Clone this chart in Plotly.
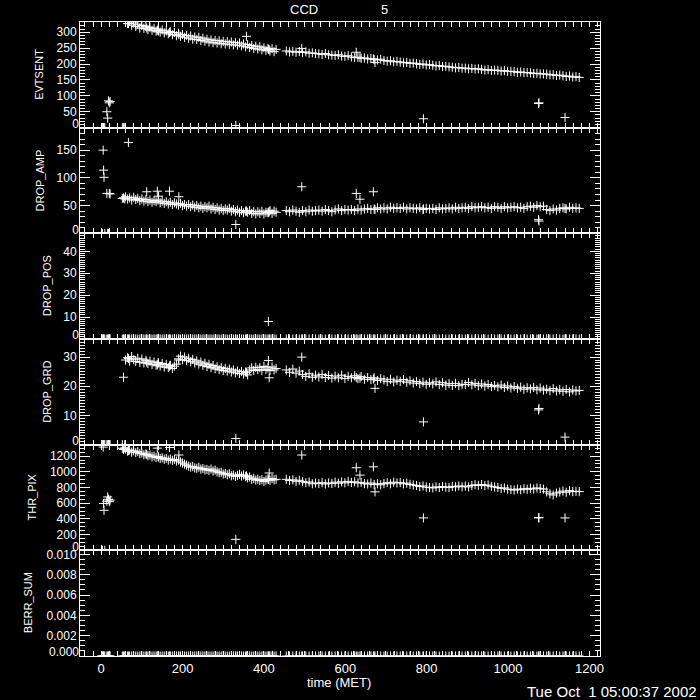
import plotly.graph_objects as go
from plotly.subplots import make_subplots

# ---------------- data ----------------
# early points (15), isolated outliers (18), dense band A (75), band B (91)
time = [1, 3, 5, 6, 7, 9, 14, 16, 18, 20, 22, 52, 55, 58, 67,
        112, 138, 141, 168, 191, 331, 357, 411, 413, 493, 627, 636, 669, 673, 792, 1075, 1076, 1140,
        60, 65, 70, 75, 80, 85, 90, 95, 100, 105, 110, 115, 120, 125, 130,
        135, 140, 145, 150, 155, 160, 165, 170, 175, 180, 185, 190, 195, 200, 205,
        210, 215, 220, 225, 230, 235, 240, 245, 250, 255, 260, 265, 270, 275, 280,
        285, 290, 295, 300, 305, 310, 315, 320, 325, 330, 335, 340, 345, 350, 355,
        360, 365, 370, 375, 380, 385, 390, 395, 400, 405, 410, 415, 420, 425, 430,
        455, 463, 471, 479, 487, 495, 503, 511, 519, 527, 535, 543, 551, 559, 567,
        575, 583, 591, 599, 607, 615, 623, 631, 639, 647, 655, 663, 671, 679, 687,
        695, 703, 711, 719, 727, 735, 743, 751, 759, 767, 775, 783, 791, 799, 807,
        815, 823, 831, 839, 847, 855, 863, 871, 879, 887, 895, 903, 911, 919, 927,
        935, 943, 951, 959, 967, 975, 983, 991, 999, 1007, 1015, 1023, 1031, 1039, 1047,
        1055, 1063, 1071, 1079, 1087, 1095, 1103, 1111, 1119, 1127, 1135, 1143, 1151, 1159, 1167,
        1175]

evtsent = [0, 0, 0, 0, 0, 0, 50, 30, 84, 78, 82, 0, 0, 0, 327,
           313, 306, 304, 299, 292, 7, 287, 246, 245, 249, 237, 221, 216, 205, 28, 76, 78, 32,
           336, 327, 334, 322, 329, 318, 325, 313, 321, 312, 318, 308, 315, 306, 312,
           303, 310, 300, 307, 298, 304, 295, 302, 292, 299, 289, 297, 287, 293, 284,
           290, 281, 288, 278, 285, 277, 284, 274, 281, 272, 278, 269, 276, 267, 274,
           266, 273, 264, 271, 263, 270, 262, 269, 260, 267, 259, 266, 257, 263, 254,
           261, 252, 258, 249, 256, 247, 254, 245, 251, 243, 249, 241, 248, 239, 246,
           241, 238, 240, 237, 239, 236, 238, 234, 235, 233, 232, 230, 233, 229, 228,
           227, 229, 225, 224, 226, 222, 220, 221, 218, 219, 216, 217, 214, 213, 215,
           211, 209, 210, 207, 208, 206, 204, 205, 202, 203, 201, 199, 200, 197, 198,
           196, 194, 195, 192, 193, 191, 190, 188, 189, 187, 187, 185, 186, 184, 185,
           183, 181, 182, 180, 181, 180, 178, 179, 177, 177, 176, 174, 175, 173, 173,
           172, 170, 171, 169, 169, 168, 166, 166, 164, 165, 163, 161, 162, 159, 160,
           158]

drop_amp = [0, 0, 150, 114, 101, 0, 72, 0, 0, 72, 71, 63, 64, 62, 164,
            75, 76, 67, 76, 66, 16, 40, 38, 39, 84, 72, 61.5, 75, 43, 44, 24.6, 22, 45,
            66, 62, 64, 60, 65, 61, 63, 59, 62, 58, 61, 57, 60, 56, 59,
            57, 60, 55, 58, 54, 57, 53, 56, 52, 55, 53, 51, 54, 50, 52,
            49, 52, 48, 51, 47, 50, 46, 49, 45, 48, 46, 49, 44, 47, 43,
            46, 42, 45, 41, 44, 42, 45, 40, 43, 39, 42, 38, 41, 37, 40,
            38, 41, 36, 39, 35, 39, 36, 40, 35, 38, 37, 41, 36, 40, 38,
            41, 39, 42, 40, 38, 41, 39, 42, 40, 41, 42, 40, 43, 41, 39,
            42, 44, 41, 43, 42, 43, 41, 44, 42, 44, 45, 43, 44, 46, 44,
            46, 44, 47, 45, 46, 45, 47, 44, 46, 45, 44, 46, 43, 45, 44,
            45, 43, 46, 44, 45, 46, 44, 47, 45, 46, 47, 45, 48, 46, 47,
            48, 46, 47, 45, 48, 47, 45, 48, 46, 47, 48, 46, 47, 45, 48,
            49, 47, 50, 48, 49, 43, 41, 44, 42, 45, 46, 44, 47, 45, 46,
            45]

drop_pos = [0, 0, 0, 0, 0, 0, 0, 0, 0, 0, 0, 0, 0, 0, 0,
            0, 0, 0, 0, 0, 0, 0, 8, 0, 0, 0, 0, 0, 0, 0, 0, 0, 0,
            0, 0, 0, 0, 0, 0, 0, 0, 0, 0, 0, 0, 0, 0, 0,
            0, 0, 0, 0, 0, 0, 0, 0, 0, 0, 0, 0, 0, 0, 0,
            0, 0, 0, 0, 0, 0, 0, 0, 0, 0, 0, 0, 0, 0, 0,
            0, 0, 0, 0, 0, 0, 0, 0, 0, 0, 0, 0, 0, 0, 0,
            0, 0, 0, 0, 0, 0, 0, 0, 0, 0, 0, 0, 0, 0, 0,
            0, 0, 0, 0, 0, 0, 0, 0, 0, 0, 0, 0, 0, 0, 0,
            0, 0, 0, 0, 0, 0, 0, 0, 0, 0, 0, 0, 0, 0, 0,
            0, 0, 0, 0, 0, 0, 0, 0, 0, 0, 0, 0, 0, 0, 0,
            0, 0, 0, 0, 0, 0, 0, 0, 0, 0, 0, 0, 0, 0, 0,
            0, 0, 0, 0, 0, 0, 0, 0, 0, 0, 0, 0, 0, 0, 0,
            0, 0, 0, 0, 0, 0, 0, 0, 0, 0, 0, 0, 0, 0, 0,
            0]

drop_grd = [0, 0, 0, 0, 0, 0, 0, 0, 0, 0, 0, 0, 23.1, 0, 29.5,
            28.3, 27.4, 28.0, 26.9, 29.0, 2.1, 24.8, 28.8, 22.9, 30.0, 23.0, 22.8, 22.5, 19.3, 7.8, 11.9, 12.4, 2.6,
            29.0, 29.8, 28.6, 30.2, 29.1, 28.5, 29.6, 28.2, 29.3, 28.0, 28.9, 27.8, 28.6, 27.5, 28.3,
            27.2, 28.1, 26.9, 27.8, 26.6, 27.5, 26.4, 27.2, 26.1, 26.9, 27.6, 29.4, 30.3, 29.1, 30.0,
            28.8, 29.6, 28.4, 29.2, 28.0, 28.7, 27.6, 28.3, 27.2, 27.9, 26.8, 27.5, 26.4, 27.1, 26.0,
            26.7, 25.7, 26.4, 25.4, 26.1, 25.2, 25.9, 24.9, 25.6, 24.6, 25.3, 24.4, 25.1, 24.2, 24.9,
            23.9, 25.6, 26.3, 25.4, 26.5, 25.7, 26.4, 25.5, 26.8, 25.8, 26.3, 25.4, 26.6, 25.6, 26.1,
            25.6, 24.8, 25.9, 24.5, 25.2, 24.0, 23.4, 24.3, 23.1, 23.8, 23.2, 24.0, 23.0, 23.7, 22.8,
            23.5, 22.9, 23.8, 22.7, 23.4, 22.9, 23.6, 22.6, 23.3, 22.4, 23.0, 22.3, 22.9, 22.0, 22.6,
            22.2, 21.6, 22.4, 21.5, 22.1, 21.7, 22.3, 21.4, 21.9, 21.1, 21.6, 20.9, 21.4, 20.7, 21.2,
            20.8, 21.5, 20.6, 21.2, 20.4, 20.9, 20.3, 21.0, 20.2, 20.7, 20.6, 21.3, 20.5, 21.0, 20.2,
            20.8, 20.1, 20.6, 19.9, 20.3, 19.8, 20.4, 19.6, 20.1, 19.4, 19.9, 19.3, 19.7, 19.0, 19.5,
            19.1, 19.6, 18.8, 19.4, 18.7, 19.0, 18.5, 19.2, 18.4, 18.8, 18.3, 18.9, 18.1, 18.7, 18.4,
            18.6]

thr_pix = [0, 0, 1315, 597, 510, 0, 626, 680, 650, 620, 640, 1300, 1285, 1305, 1272,
           1222, 1302, 1188, 1310, 1214, 140, 950, 902, 985, 1214, 1052, 958, 1064, 745, 413, 413, 418, 413,
           1290, 1262, 1278, 1250, 1268, 1245, 1258, 1232, 1240, 1218, 1228, 1205, 1215, 1192, 1200,
           1182, 1195, 1170, 1178, 1160, 1172, 1150, 1163, 1145, 1158, 1138, 1150, 1125, 1112, 1098,
           1085, 1072, 1060, 1068, 1050, 1045, 1058, 1035, 1042, 1025, 1030, 1018, 1035, 1010, 1022,
           1000, 988, 995, 972, 980, 962, 975, 950, 960, 942, 955, 968, 945, 960, 938,
           922, 935, 905, 918, 895, 905, 888, 900, 878, 895, 910, 892, 915, 898, 905,
           905, 890, 898, 880, 892, 875, 862, 870, 848, 858, 850, 862, 845, 858, 852,
           868, 855, 872, 860, 878, 865, 872, 858, 866, 850, 845, 858, 838, 848, 835,
           850, 862, 848, 868, 858, 862, 848, 855, 840, 832, 825, 812, 820, 805, 800,
           795, 808, 800, 812, 805, 800, 815, 808, 820, 810, 818, 808, 825, 835, 828,
           838, 825, 832, 815, 808, 800, 790, 795, 780, 775, 768, 780, 772, 785, 778,
           790, 782, 795, 788, 780, 745, 720, 705, 730, 742, 755, 740, 760, 748, 752,
           748]

berr_sum = [0, 0, 0, 0, 0, 0, 0, 0, 0, 0, 0, 0, 0, 0, 0,
            0, 0, 0, 0, 0, 0, 0, 0, 0, 0, 0, 0, 0, 0, 0, 0, 0, 0,
            0, 0, 0, 0, 0, 0, 0, 0, 0, 0, 0, 0, 0, 0, 0,
            0, 0, 0, 0, 0, 0, 0, 0, 0, 0, 0, 0, 0, 0, 0,
            0, 0, 0, 0, 0, 0, 0, 0, 0, 0, 0, 0, 0, 0, 0,
            0, 0, 0, 0, 0, 0, 0, 0, 0, 0, 0, 0, 0, 0, 0,
            0, 0, 0, 0, 0, 0, 0, 0, 0, 0, 0, 0, 0, 0, 0,
            0, 0, 0, 0, 0, 0, 0, 0, 0, 0, 0, 0, 0, 0, 0,
            0, 0, 0, 0, 0, 0, 0, 0, 0, 0, 0, 0, 0, 0, 0,
            0, 0, 0, 0, 0, 0, 0, 0, 0, 0, 0, 0, 0, 0, 0,
            0, 0, 0, 0, 0, 0, 0, 0, 0, 0, 0, 0, 0, 0, 0,
            0, 0, 0, 0, 0, 0, 0, 0, 0, 0, 0, 0, 0, 0, 0,
            0, 0, 0, 0, 0, 0, 0, 0, 0, 0, 0, 0, 0, 0, 0,
            0]

panel_names = ["EVTSENT", "DROP_AMP", "DROP_POS", "DROP_GRD", "THR_PIX", "BERR_SUM"]
x_tick_values = [0, 200, 400, 600, 800, 1000, 1200]
x_tick_labels = ["0", "200", "400", "600", "800", "1000", "1200"]
y_tick_values = [[0, 50, 100, 150, 200, 250, 300],
                 [0, 50, 100, 150],
                 [0, 10, 20, 30, 40],
                 [0, 10, 20, 30],
                 [0, 200, 400, 600, 800, 1000, 1200],
                 [0.0, 0.002, 0.004, 0.006, 0.008, 0.010]]
y_tick_labels = [["0", "50", "100", "150", "200", "250", "300"],
                 ["0", "50", "100", "150"],
                 ["0", "10", "20", "30", "40"],
                 ["0", "10", "20", "30"],
                 ["0", "200", "400", "600", "800", "1000", "1200"],
                 ["0.000", "0.002", "0.004", "0.006", "0.008", "0.010"]]

# ---------------- figure ----------------
W, H = 700, 700
ML, MR, MT, MB = 80, 100, 22, 44
PW, PH = W - ML - MR, H - MT - MB

FONT = "Liberation Sans, Arial, sans-serif"
WHITE = "white"

fig = make_subplots(rows=6, cols=1, shared_xaxes=True, vertical_spacing=0)

series = [evtsent, drop_amp, drop_pos, drop_grd, thr_pix, berr_sum]
yranges = [[0, 332], [0, 190.6], [0, 48.2], [0, 36.2], [0, 1346], [0, 0.0104]]
yminor = [10, 10, 1, 1, 50, 0.0005]
title_px = [39, 39, 47, 47, 31, 28]
tick_font = dict(family=FONT, size=12, color=WHITE)

for i, vals in enumerate(series, start=1):
    fig.add_trace(go.Scatter(
        x=time, y=vals, mode="markers",
        marker=dict(symbol="cross-thin", size=6.5, color=WHITE,
                    line=dict(color=WHITE, width=1)),
        showlegend=False, hoverinfo="skip", cliponaxis=True),
        row=i, col=1)
    tv, tt = y_tick_values[i - 1], y_tick_labels[i - 1]
    fig.update_yaxes(row=i, col=1, range=yranges[i - 1],
                     tickmode="array", tickvals=tv[1:], ticktext=tt[1:],
                     ticks="inside", ticklen=10, tickwidth=1, tickcolor=WHITE,
                     showline=True, linecolor=WHITE, linewidth=1, mirror="allticks",
                     showgrid=False, zeroline=False,
                     tickfont=tick_font,
                     minor=dict(tickmode="linear", tick0=0, dtick=yminor[i - 1],
                                ticks="inside", ticklen=5, tickwidth=1,
                                tickcolor=WHITE, showgrid=False))
    fig.update_xaxes(row=i, col=1, range=[-52, 1226],
                     tickmode="array", tickvals=x_tick_values,
                     ticktext=x_tick_labels,
                     ticks="inside", ticklen=5, tickwidth=1, tickcolor=WHITE,
                     showline=True, linecolor=WHITE, linewidth=1, mirror="allticks",
                     showgrid=False, zeroline=False,
                     showticklabels=(i == 6),
                     tickfont=dict(family=FONT, size=13, color=WHITE),
                     minor=dict(tick0=0, dtick=20, ticks="inside", ticklen=3,
                                tickwidth=1, tickcolor=WHITE, showgrid=False))

# overlay axes carrying the bottom ("0") label of each panel, raised like the original
extra_axes = {}
for i in range(1, 7):
    ov = 6 + i
    xname = "x" if i == 1 else f"x{i}"
    yname = "y" if i == 1 else f"y{i}"
    fig.add_trace(go.Scatter(x=[None], y=[None], mode="markers",
                             xaxis=xname, yaxis=f"y{ov}",
                             showlegend=False, hoverinfo="skip"))
    extra_axes[f"yaxis{ov}"] = dict(
        overlaying=yname, anchor=xname, side="left", range=yranges[i - 1],
        tickmode="array", tickvals=[y_tick_values[i - 1][0]],
        ticktext=[y_tick_labels[i - 1][0]],
        ticks="", showline=False, showgrid=False, zeroline=False,
        ticklabelshift=-4, tickfont=tick_font)

annotations = []
panel_h = PH / 6.0
for k, name in enumerate(panel_names):
    cy = MT + (k + 0.5) * panel_h
    annotations.append(dict(
        text=name, xref="paper", yref="paper",
        x=(title_px[k] - ML) / PW, y=(H - MB - cy) / PH,
        xanchor="center", yanchor="middle", textangle=-90, showarrow=False,
        font=dict(family=FONT, size=11, color=WHITE)))

def px_to_paper(px, py):
    return (px - ML) / PW, (H - MB - py) / PH

for txt, px, py, xa, size in [("CCD", 304, 10, "center", 13),
                              ("5", 384, 10, "center", 13),
                              ("time (MET)", 339, 682, "center", 13),
                              ("Tue Oct&nbsp; 1 05:00:37 2002", 699, 691, "right", 15)]:
    ax, ay = px_to_paper(px, py)
    annotations.append(dict(text=txt, xref="paper", yref="paper",
                            x=ax, y=ay, xanchor=xa, yanchor="middle",
                            showarrow=False,
                            font=dict(family=FONT, size=size, color=WHITE)))

fig.update_layout(
    width=W, height=H,
    margin=dict(l=ML, r=MR, t=MT, b=MB, pad=0),
    paper_bgcolor="black", plot_bgcolor="black",
    annotations=annotations,
    showlegend=False,
    **extra_axes,
)

fig.write_html("out.html",
               config={"displayModeBar": False, "staticPlot": True},
               post_script="document.body.style.margin='0';"
                           "document.body.style.overflow='hidden';"
                           "document.body.style.background='black';")
